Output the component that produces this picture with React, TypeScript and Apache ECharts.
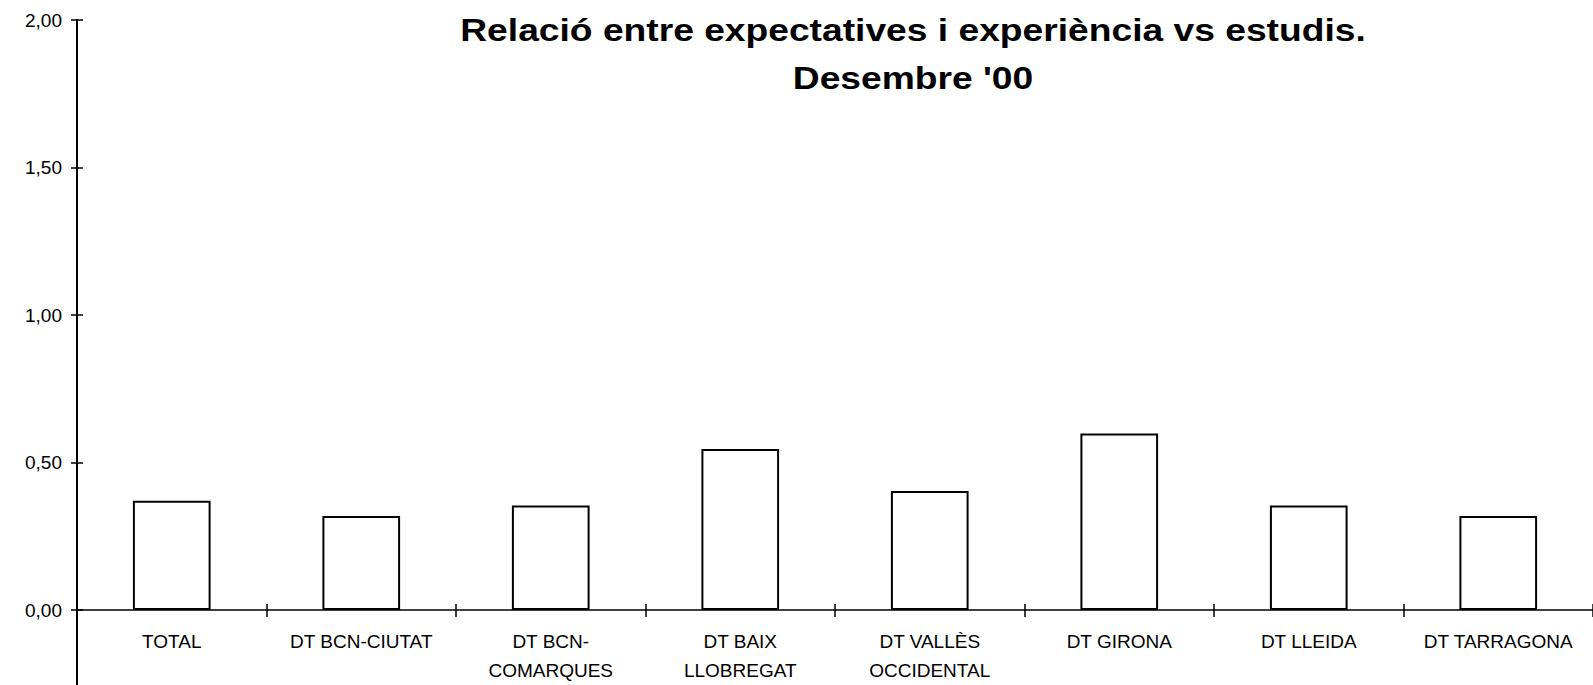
import React, { useEffect, useRef } from "react";
import * as echarts from "echarts";

const categories = [
  "TOTAL",
  "DT BCN-CIUTAT",
  "DT BCN-\nCOMARQUES",
  "DT BAIX\nLLOBREGAT",
  "DT VALLÈS\nOCCIDENTAL",
  "DT GIRONA",
  "DT LLEIDA",
  "DT TARRAGONA",
];
const values = [0.37, 0.319, 0.354, 0.546, 0.403, 0.598, 0.354, 0.319];
const titleLine1 = "Relació entre expectatives i experiència vs estudis.";
const titleLine2 = "Desembre '00";
const yMin = 0;
const yMax = 2;
const yInterval = 0.5;

const FONT = "Arial, 'Liberation Sans', sans-serif";
const GRID_LEFT = 77;

export default function App() {
  const ref = useRef<HTMLDivElement>(null);
  useEffect(() => {
    document.body.style.margin = "0";
    const chart = echarts.init(ref.current!, null, { renderer: "svg" });
    const fmt = (v: number) => v.toFixed(2).replace(".", ",");
    const titleText = (text: string, y: number) => ({
      type: "text",
      x: 913,
      y,
      scaleX: 1.2,
      style: {
        text,
        font: `bold 31px ${FONT}`,
        fill: "#000",
        align: "center",
        verticalAlign: "middle",
      },
    });
    chart.setOption({
      animation: false,
      backgroundColor: "#ffffff",
      graphic: [titleText(titleLine1, 30), titleText(titleLine2, 78)],
      grid: { left: GRID_LEFT, top: 20, right: -16, bottom: 70, containLabel: false },
      xAxis: [
        {
          type: "category",
          data: categories,
          axisLine: { lineStyle: { color: "#000", width: 1.5 } },
          axisTick: { show: true, length: 7, alignWithLabel: false, lineStyle: { color: "#000", width: 1.5 } },
          axisLabel: {
            interval: 0,
            margin: 17,
            color: "#000",
            fontSize: 19,
            fontFamily: FONT,
            lineHeight: 29,
          },
        },
        {
          type: "category",
          data: categories,
          position: "bottom",
          axisLine: { show: false },
          axisTick: { show: true, inside: true, length: 6, alignWithLabel: false, lineStyle: { color: "#000", width: 1.5 } },
          axisLabel: { show: false },
        },
      ],
      yAxis: [
        {
          type: "value",
          min: yMin,
          max: yMax,
          interval: yInterval,
          splitLine: { show: false },
          axisLine: { show: true, lineStyle: { color: "#000", width: 2 } },
          axisTick: { show: true, length: 6, lineStyle: { color: "#000", width: 1.5 } },
          axisLabel: {
            margin: 15,
            color: "#000",
            fontSize: 19,
            fontFamily: FONT,
            formatter: fmt,
          },
        },
        {
          type: "value",
          min: yMin,
          max: yMax,
          interval: yInterval,
          position: "left",
          splitLine: { show: false },
          axisLine: { show: false },
          axisTick: { show: true, inside: true, length: 6, lineStyle: { color: "#000", width: 1.5 } },
          axisLabel: { show: false },
        },
      ],
      series: [
        {
          type: "bar",
          data: values,
          barWidth: "41%",
          xAxisIndex: 0,
          yAxisIndex: 0,
          itemStyle: { color: "#ffffff", borderColor: "#000", borderWidth: 2 },
        },
      ],
    });
    // extend the y axis line below the zero line, down to the page edge
    const y0 = chart.convertToPixel({ yAxisIndex: 0 }, 0) as number;
    chart.setOption({
      graphic: [
        titleText(titleLine1, 30),
        titleText(titleLine2, 78),
        {
          type: "line",
          shape: { x1: GRID_LEFT, y1: y0, x2: GRID_LEFT, y2: 685 },
          style: { stroke: "#000", lineWidth: 2 },
        },
      ],
    });
    return () => chart.dispose();
  }, []);
  return <div ref={ref} style={{ width: 1593, height: 685 }} />;
}
